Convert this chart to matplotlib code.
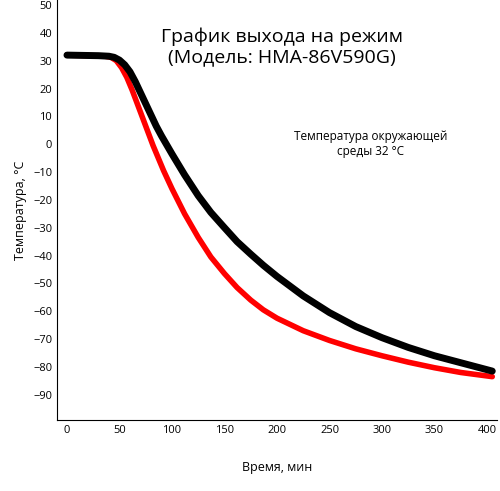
import matplotlib
matplotlib.use('Agg')
import matplotlib.pyplot as plt

plt.rcParams['font.family'] = ['Open Sans', 'DejaVu Sans']

t_black = [0, 30, 40, 45, 50, 55, 60, 65, 70, 75, 80, 85, 90, 100, 112, 125, 137, 150, 162, 175, 187, 200, 225, 250, 275, 300, 325, 350, 375, 405]
temp_black = [32, 31.8, 31.6, 31.2, 30.2, 28.5, 26, 22.5, 18.5, 14.5, 10.5, 6.5, 3, -3.5, -11, -18.5, -24.5, -30, -35, -39.5, -43.5, -47.5, -54.5, -60.5, -65.5, -69.5, -73, -76, -78.5, -81.5]
t_red = [0, 35, 42, 47, 52, 57, 62, 67, 72, 77, 82, 87, 92, 100, 112, 125, 137, 150, 162, 175, 187, 200, 225, 250, 275, 300, 325, 350, 375, 405]
temp_red = [32, 31.7, 31.2, 30, 27.5, 24, 19.5, 14.5, 9.5, 4.5, -0.5, -5, -9.5, -16, -25, -33.5, -40.5, -46.5, -51.5, -56, -59.5, -62.5, -67, -70.5, -73.5, -76, -78.3, -80.3, -82, -83.5]

fig = plt.figure(figsize=(5, 4.91), dpi=100)
ax = fig.add_axes([0.114, 0.145, 0.88, 0.855])
ax.plot(t_red, temp_red, color='#ff0000', lw=4, solid_capstyle='round', solid_joinstyle='round')
ax.plot(t_black, temp_black, color='black', lw=5, solid_capstyle='round', solid_joinstyle='round')

ax.set_xlim(-9.5, 409.5)
ax.set_ylim(-99, 51.8)
ax.set_xticks(range(0, 401, 50))
ax.set_yticks(range(-90, 51, 10))
ax.tick_params(labelsize=8, length=0)
for s in ['top', 'right']:
    ax.spines[s].set_visible(False)
ax.set_xlabel('Время, мин', fontsize=9, labelpad=18)
ax.set_ylabel('Температура, °C', fontsize=9)
ax.text(205, 35, 'График выхода на режим\n(Модель: HMA-86V590G)', ha='center', va='center', fontsize=14)
ax.text(289, 0, 'Температура окружающей\nсреды 32 °C', ha='center', va='center', fontsize=8.5)

fig.savefig('out.png')
